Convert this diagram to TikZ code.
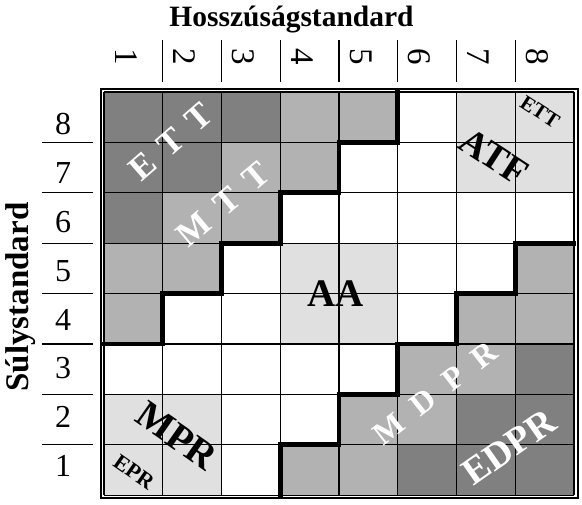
\documentclass[tikz,border=0pt]{standalone}
\usepackage{fontspec}
\setmainfont{Liberation Serif}
\newcommand\fsz[1]{\fontsize{#1}{#1}\selectfont}
\definecolor{celld}{gray}{0.5}
\definecolor{cellm}{gray}{0.7}
\definecolor{celll}{gray}{0.88}
\definecolor{cellw}{gray}{1}
\begin{document}
\begin{tikzpicture}[x=1pt,y=1pt,
  thinline/.style={line width=1.2pt},
  stair/.style={line width=4.8pt, line join=miter, line cap=rect},
  wlab/.style={inner sep=0pt, text=white, font=\fsz{35}\bfseries},
  blab/.style={inner sep=0pt, text=black, font=\bfseries},
  digit/.style={inner sep=0pt, font=\fsz{33}}]
\useasboundingbox (0,0) rectangle (582,-505);
\fill[white] (0,0) rectangle (582,-505);

% outer frame
\draw[thinline] (101,-89) rectangle (578,-498);

\begin{scope}[shift={(104pt,-495.2pt)}, x=58.75pt, y=50.4pt]
  \foreach \c [count=\i] in {d,d,d,m,m,w,l,l} \fill[fill=cell\c] (\i-1,7) rectangle (\i,8);
  \foreach \c [count=\i] in {d,d,m,m,w,w,l,l} \fill[fill=cell\c] (\i-1,6) rectangle (\i,7);
  \foreach \c [count=\i] in {d,m,m,w,w,w,w,w} \fill[fill=cell\c] (\i-1,5) rectangle (\i,6);
  \foreach \c [count=\i] in {m,m,w,l,l,w,w,m} \fill[fill=cell\c] (\i-1,4) rectangle (\i,5);
  \foreach \c [count=\i] in {m,w,w,l,l,w,m,m} \fill[fill=cell\c] (\i-1,3) rectangle (\i,4);
  \foreach \c [count=\i] in {w,w,w,w,w,m,m,d} \fill[fill=cell\c] (\i-1,2) rectangle (\i,3);
  \foreach \c [count=\i] in {l,l,w,w,m,m,d,d} \fill[fill=cell\c] (\i-1,1) rectangle (\i,2);
  \foreach \c [count=\i] in {l,l,w,m,m,d,d,d} \fill[fill=cell\c] (\i-1,0) rectangle (\i,1);
  \foreach \k in {0,...,8} {
    \draw[thinline] (\k,0) -- (\k,8);
    \draw[thinline] (0,\k) -- (8,\k);
  }
  \draw[stair] (0,3) -- (1,3) -- (1,4) -- (2,4) -- (2,5) -- (3,5) -- (3,6)
     -- (4,6) -- (4,7) -- (5,7) -- (5,8);
  \draw[stair] (8,5) -- (7,5) -- (7,4) -- (6,4) -- (6,3) -- (5,3) -- (5,2)
     -- (4,2) -- (4,1) -- (3,1) -- (3,0);
\end{scope}

% axis titles
\node[anchor=base, inner sep=0pt, font=\fsz{29.5}\bfseries] (title) at (291.5,-27) {Hosszúságstandard};
\node[anchor=base, rotate=90, inner sep=0pt, font=\fsz{33}\bfseries] (side) at (28,-297) {Súlystandard};

% column ticks and numbers
\foreach \k in {1,...,7} \draw[thinline] ({104+58.75*\k},-40) -- ({104+58.75*\k},-82);
\foreach \c in {1,...,8} \node[digit, rotate=-90] (col\c) at ({126+58.7*(\c-1)},-57) {\c};

% row lines and numbers
\foreach \k in {1,...,7} \draw[thinline] (42,{-495.2+50.4*\k}) -- (93,{-495.2+50.4*\k});
\foreach \r in {1,...,8} \node[digit, font=\fsz{32}] (row\r) at (63,{-124-48.9*(8-\r)}) {\r};

% region labels
\node[wlab, rotate=41] (ett) at (171,-142) {E\hspace{14pt}T\hspace{14pt}T};
\node[wlab, rotate=40] (mtt) at (223,-204) {M\hspace{15pt}T\hspace{15pt}T};
\node[wlab, rotate=38, font=\fsz{32}\bfseries] (mdpr) at (435,-393) {M\hspace{17pt}D\hspace{17pt}P\hspace{17pt}R};
\node[wlab, rotate=35, font=\fsz{38}\bfseries] (edpr) at (509,-447) {EDPR};
\node[blab, rotate=-33, font=\fsz{38}\bfseries] (atf) at (494,-157) {ATF};
\node[blab, rotate=-33, font=\fsz{21}\bfseries] (ett2) at (540,-112) {ETT};
\node[blab, anchor=base, font=\fsz{39}\bfseries] (aa) at (336,-307) {AA};
\node[blab, rotate=-35, font=\fsz{39}\bfseries] (mpr) at (177,-436) {MPR};
\node[blab, rotate=-35, font=\fsz{22}\bfseries] (epr) at (134,-472) {EPR};
\end{tikzpicture}
\end{document}
